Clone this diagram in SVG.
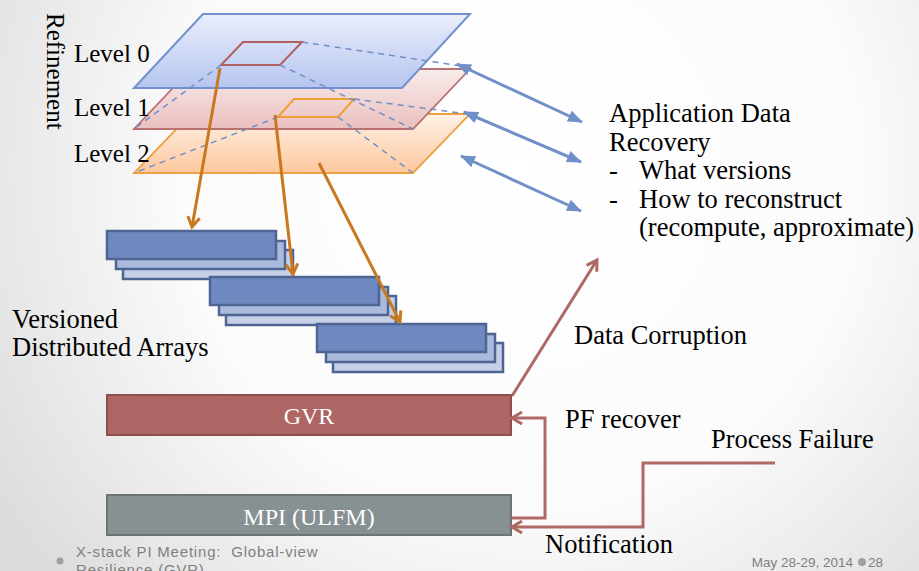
<svg xmlns="http://www.w3.org/2000/svg" width="919" height="571" viewBox="0 0 919 571">
<defs>
<radialGradient id="bg" cx="520" cy="170" r="620" gradientUnits="userSpaceOnUse">
<stop offset="0" stop-color="#ffffff"/><stop offset="0.55" stop-color="#fbfbfb"/><stop offset="1" stop-color="#dcdcdc"/>
</radialGradient>
<linearGradient id="g0" x1="0" y1="0" x2="0" y2="1"><stop offset="0" stop-color="#eaeefb"/><stop offset="1" stop-color="#b5c5ef"/></linearGradient>
<linearGradient id="g1" x1="0" y1="0" x2="0" y2="1"><stop offset="0" stop-color="#f9ecec"/><stop offset="1" stop-color="#ebbfbf"/></linearGradient>
<linearGradient id="g2" x1="0" y1="0" x2="0" y2="1"><stop offset="0" stop-color="#fff1e6"/><stop offset="1" stop-color="#fcc89e"/></linearGradient>
<marker id="ao" markerUnits="userSpaceOnUse" markerWidth="16" markerHeight="16" refX="12" refY="7" orient="auto" viewBox="0 0 16 14">
<path d="M2,1 L12,7 L2,13" fill="none" stroke="#c8781e" stroke-width="3" stroke-linejoin="miter"/>
</marker>
<marker id="ab" markerUnits="userSpaceOnUse" markerWidth="16" markerHeight="12" refX="14" refY="6" orient="auto-start-reverse" viewBox="0 0 16 12">
<path d="M0,0 L15,6 L0,12 Z" fill="#7090c8"/>
</marker>
<marker id="ar" markerUnits="userSpaceOnUse" markerWidth="16" markerHeight="16" refX="12" refY="7" orient="auto" viewBox="0 0 16 14">
<path d="M2,1 L12,7 L2,13" fill="none" stroke="#b06864" stroke-width="3"/>
</marker>
</defs>
<style>
.t{font-family:"Liberation Serif","Times New Roman",serif;font-size:26.5px;fill:#000}
.lv{font-family:"Liberation Serif","Times New Roman",serif;font-size:25px;fill:#000}
.w{font-family:"Liberation Serif","Times New Roman",serif;font-size:24px;fill:#fff;text-anchor:middle}
.f{font-family:"Liberation Sans",Arial,sans-serif;font-size:15px;fill:#808080;letter-spacing:0.8px}
.fr{font-family:"Liberation Sans",Arial,sans-serif;font-size:13.5px;fill:#808080}
.dash{fill:none;stroke:#7090c8;stroke-width:1.5;stroke-dasharray:6,5}
.or{fill:none;stroke:#c8781e;stroke-width:3;marker-end:url(#ao)}
.bl{fill:none;stroke:#7090c8;stroke-width:3;marker-start:url(#ab);marker-end:url(#ab)}
.rd{fill:none;stroke:#b06864;stroke-width:3;marker-end:url(#ar)}
.b1{fill:#6f89c0;stroke:#4e6594;stroke-width:2.5}
.b2{fill:#abbadc;stroke:#4e6594;stroke-width:2.5}
.b3{fill:#c6d0e8;stroke:#4e6594;stroke-width:2.5}
</style>
<rect x="0" y="0" width="919" height="571" fill="url(#bg)"/>

<g id="level2">
<polygon points="191,114 470,114 413,173 134,173" fill="url(#g2)" stroke="#f0a040" stroke-width="1.8"/>
</g>
<g id="level1">
<polygon points="191,69 470,69 413,129 134,129" fill="url(#g1)" stroke="#b87070" stroke-width="1.8"/>
<polygon points="294,99 354,99 338,117 278,117" fill="none" stroke="#f0a030" stroke-width="2"/>
</g>
<g id="level0">
<polygon points="203,14 470,14 402,88 134,88" fill="url(#g0)" stroke="#7090d0" stroke-width="2"/>
<polygon points="243,42 302,42 280,65 221,65" fill="none" stroke="#b06060" stroke-width="2"/>
</g>

<g id="labels">
<text class="lv" x="74" y="62">Level 0</text>
<text class="lv" x="74" y="116">Level 1</text>
<text class="lv" x="74" y="162">Level 2</text>
<text class="lv" transform="translate(47,13) rotate(90)">Refinement</text>
</g>

<g id="array1">
<rect class="b3" x="123" y="250" width="170" height="29"/>
<rect class="b2" x="116" y="241" width="169" height="28"/>
<rect class="b1" x="107" y="231" width="169" height="28"/>
</g>
<g id="array2">
<rect class="b3" x="226" y="296" width="170" height="29"/>
<rect class="b2" x="219" y="287" width="169" height="28"/>
<rect class="b1" x="210" y="277" width="169" height="28"/>
</g>
<g id="array3">
<rect class="b3" x="333" y="343" width="170" height="29"/>
<rect class="b2" x="326" y="334" width="169" height="28"/>
<rect class="b1" x="317" y="324" width="169" height="28"/>
</g>
<g id="arrays-label">
<text class="t" x="12" y="328">Versioned</text>
<text class="t" x="12" y="356">Distributed Arrays</text>
</g>

<g id="gvr">
<rect x="107" y="395" width="404" height="40" fill="#ad6663" stroke="#8e4f4c" stroke-width="2"/>
<text class="w" x="309" y="424">GVR</text>
</g>
<g id="mpi">
<rect x="107" y="495" width="404" height="40" fill="#879092" stroke="#6b7375" stroke-width="2"/>
<text class="w" x="309" y="525">MPI (ULFM)</text>
</g>

<g id="recovery">
<text class="t" x="609" y="122">Application Data</text>
<text class="t" x="609" y="151">Recovery</text>
<text class="t" x="609" y="179">-</text>
<text class="t" x="639" y="179">What versions</text>
<text class="t" x="609" y="208">-</text>
<text class="t" x="639" y="208">How to reconstruct</text>
<text class="t" x="639" y="236">(recompute, approximate)</text>
</g>

<g id="connectors">
<path class="dash" d="M302,42 L468,67 M221,65 L134,129 M280,65 L413,129"/>
<path class="dash" d="M354,99 L468,114 M278,117 L134,173 M338,117 L413,173"/>
<path class="or" d="M220,68 L192,227"/>
<path class="or" d="M275,115 L293,274"/>
<path class="or" d="M319,163 L400,322"/>
<path class="bl" d="M457,64 L582,122"/>
<path class="bl" d="M464,112 L581,162"/>
<path class="bl" d="M461,156 L581,211"/>
<path class="rd" d="M512,396 L597,260"/>
<path class="rd" d="M511,518 L545,518 L545,418 L512,418"/>
<path class="rd" d="M775,463 L643,463 L643,527 L512,527"/>
</g>

<g id="conn-labels">
<text class="t" x="574" y="344">Data Corruption</text>
<text class="t" x="565" y="428">PF recover</text>
<text class="t" x="711" y="448">Process Failure</text>
<text class="t" x="545" y="553">Notification</text>
</g>

<g id="footer">
<circle cx="60" cy="561" r="3.5" fill="#a0a0a0"/>
<text class="f" x="76" y="557" xml:space="preserve">X-stack PI Meeting:  Global-view</text>
<text class="f" x="76" y="575">Resilience (GVR)</text>
<text class="fr" x="853" y="567" text-anchor="end">May 28-29, 2014</text>
<circle cx="862" cy="562" r="4" fill="#a0a0a0"/>
<text class="fr" x="868" y="567">28</text>
</g>
</svg>
